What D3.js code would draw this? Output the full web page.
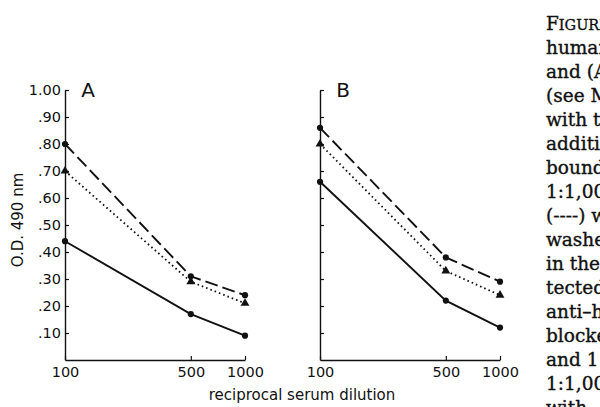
<!DOCTYPE html>
<html>
<head>
<meta charset="utf-8">
<script src="https://cdn.jsdelivr.net/npm/d3@7"></script>
<style>
  body { margin: 0; background: #fff; }
  svg { display: block; }
</style>
</head>
<body>
<div id="chart"></div>
<script>
// values
const dilutions = [100, 500, 1000];
const yTicks = [0.1, 0.2, 0.3, 0.4, 0.5, 0.6, 0.7, 0.8, 0.9, 1.0];

const aDashed = [0.80, 0.31, 0.24];
const aDotted = [0.70, 0.29, 0.21];
const aSolid  = [0.44, 0.17, 0.09];

const bDashed = [0.86, 0.38, 0.29];
const bDotted = [0.80, 0.33, 0.24];
const bSolid  = [0.66, 0.22, 0.12];

const captionLines = [
  "FIGURE", "human", "and (A", "(see M", "with t", "additi", "bound",
  "1:1,00", "(----) w", "washe", "in the", "tected", "anti\u2013h",
  "blocke", "and 1", "1:1,00", "with"
];

const width = 600, height = 407;
const ink = "#111";

const svg = d3.select("#chart")
  .append("svg")
  .attr("width", width)
  .attr("height", height);

const y = d3.scaleLinear()
  .domain([0, 1])
  .range([360, 90]);

const panels = [
  { label: "A", x0: 65, showLabels: true, series: [aDashed, aDotted, aSolid] },
  { label: "B", x0: 320, showLabels: false, series: [bDashed, bDotted, bSolid] }
];

const styles = [
  { dash: "13 5", marker: "circle" },
  { dash: "1.6 3", marker: "triangle" },
  { dash: null, marker: "circle" }
];

const yFmt = d => d === 1 ? "1.00" : d3.format(".2f")(d).slice(1);

panels.forEach(p => {
  const x = d3.scaleLog()
    .domain([100, 1000])
    .range([p.x0, p.x0 + 180]);

  const g = svg.append("g");

  // y axis, ticks pointing inward
  g.append("g")
    .attr("transform", `translate(${p.x0},0)`)
    .call(d3.axisLeft(y)
      .tickValues(yTicks)
      .tickSizeInner(-4)
      .tickSizeOuter(0)
      .tickPadding(4)
      .tickFormat(p.showLabels ? yFmt : ""))
    .call(a => a.select(".domain").attr("stroke", ink).attr("stroke-width", 1.4))
    .call(a => a.selectAll(".tick line").attr("stroke", ink).attr("stroke-width", 1.2))
    .call(a => a.selectAll(".tick text")
      .style("font-family", "DejaVu Sans")
      .style("font-size", "14.5px")
      .attr("fill", ink));

  // x axis, ticks pointing up
  g.append("g")
    .attr("transform", `translate(0,${y(0)})`)
    .call(d3.axisBottom(x)
      .tickValues(dilutions)
      .tickSizeInner(-4)
      .tickSizeOuter(0)
      .tickPadding(7)
      .tickFormat(d3.format("d")))
    .call(a => a.select(".domain").attr("stroke", ink).attr("stroke-width", 1.4))
    .call(a => a.selectAll(".tick line").attr("stroke", ink).attr("stroke-width", 1.2))
    .call(a => a.selectAll(".tick text")
      .style("font-family", "DejaVu Sans")
      .style("font-size", "14.5px")
      .attr("fill", ink));

  g.append("text")
    .attr("x", p.x0 + 23)
    .attr("y", 97)
    .attr("text-anchor", "middle")
    .style("font-family", "DejaVu Sans")
    .style("font-size", "20px")
    .attr("fill", ink)
    .text(p.label);

  const line = d3.line()
    .x((d, i) => x(dilutions[i]))
    .y(d => y(d));

  p.series.forEach((vals, si) => {
    const st = styles[si];
    g.append("path")
      .datum(vals)
      .attr("d", line)
      .attr("fill", "none")
      .attr("stroke", ink)
      .attr("stroke-width", si === 1 ? 1.8 : 1.9)
      .attr("stroke-dasharray", st.dash);

    const sym = st.marker === "triangle" ? d3.symbolTriangle : d3.symbolCircle;
    g.selectAll(null)
      .data(vals)
      .enter()
      .append("path")
      .attr("transform", (d, i) => `translate(${x(dilutions[i])},${y(d)})`)
      .attr("d", d3.symbol().type(sym).size(st.marker === "triangle" ? 34 : 30))
      .attr("fill", ink);
  });
});

// axis titles
svg.append("text")
  .attr("transform", "translate(23,220) rotate(-90)")
  .attr("text-anchor", "middle")
  .style("font-family", "DejaVu Sans")
  .style("font-size", "15px")
  .attr("fill", ink)
  .text("O.D. 490 nm");

svg.append("text")
  .attr("x", 302)
  .attr("y", 400)
  .attr("text-anchor", "middle")
  .style("font-family", "DejaVu Sans")
  .style("font-size", "15px")
  .attr("fill", ink)
  .text("reciprocal serum dilution");

// caption text, clipped at the right edge like the scanned page
const cap = svg.append("text")
  .style("font-family", "DejaVu Serif")
  .style("font-size", "18.5px")
  .attr("fill", ink)
  .attr("stroke", ink)
  .attr("stroke-width", 0.35);

captionLines.forEach((t, i) => {
  const ts = cap.append("tspan")
    .attr("x", 546)
    .attr("y", 30 + i * 24);
  if (t === "FIGURE") {
    ts.text("F");
    ts.append("tspan").style("font-size", "14.5px").text("IGURE");
  } else {
    ts.text(t);
  }
});
</script>
</body>
</html>
